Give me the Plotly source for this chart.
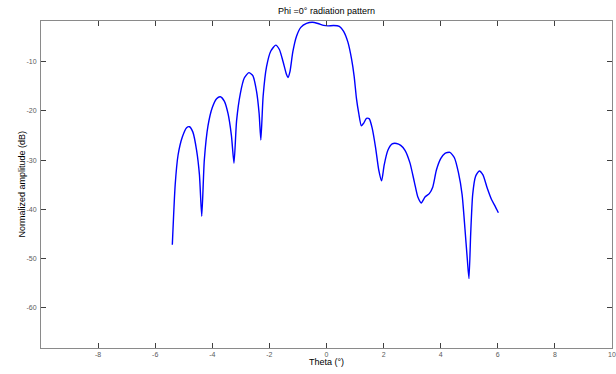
import plotly.graph_objects as go

theta = [-5.40, -5.30, -5.20, -5.05, -4.90, -4.80, -4.68, -4.55, -4.45, -4.37,
         -4.28, -4.15, -4.00, -3.85, -3.72, -3.58, -3.45, -3.33, -3.24,
         -3.15, -3.02, -2.88, -2.72, -2.58, -2.45, -2.36, -2.30,
         -2.22, -2.10, -1.95, -1.78, -1.65, -1.52, -1.40, -1.35,
         -1.28, -1.18, -1.05, -0.90, -0.70, -0.50, -0.30, -0.10, 0.05, 0.25, 0.45,
         0.60, 0.75, 0.88, 0.97, 1.05, 1.13, 1.22,
         1.30, 1.40, 1.50, 1.60, 1.72, 1.83, 1.93,
         2.02, 2.15, 2.30, 2.45, 2.60, 2.75, 2.92, 3.08, 3.20, 3.32,
         3.45, 3.60, 3.72, 3.85, 4.00, 4.15, 4.32, 4.48, 4.62, 4.75, 4.85, 4.93, 4.99,
         5.05, 5.12, 5.22, 5.35, 5.48, 5.62, 5.78, 5.90, 6.02]
amp_db = [-47.2, -35.0, -29.0, -25.3, -23.4, -23.2, -24.3, -28.0, -33.0, -41.4,
          -30.0, -23.0, -19.3, -17.5, -17.1, -18.0, -20.5, -25.0, -30.6,
          -22.0, -16.5, -13.3, -12.2, -12.8, -16.0, -20.5, -25.9,
          -17.0, -11.0, -7.8, -6.6, -7.5, -10.0, -12.6, -13.2,
          -12.0, -8.0, -4.8, -3.0, -2.2, -1.95, -2.2, -2.6, -2.7, -2.6, -2.8,
          -3.8, -6.0, -9.5, -13.0, -17.5, -20.5, -23.0,
          -22.5, -21.5, -21.6, -23.5, -27.5, -32.0, -34.2,
          -31.0, -28.0, -26.7, -26.6, -27.0, -28.0, -30.5, -34.5, -37.5, -38.7,
          -37.5, -36.8, -35.5, -32.0, -29.7, -28.6, -28.4, -29.5, -32.5, -37.0, -44.0, -50.0, -54.1,
          -45.0, -37.0, -33.3, -32.2, -33.0, -35.5, -38.0, -39.3, -40.7]

x_ticks = [-8, -6, -4, -2, 0, 2, 4, 6, 8, 10]
y_ticks = [-60, -50, -40, -30, -20, -10]

fig = go.Figure()
fig.add_trace(go.Scatter(x=theta, y=amp_db, mode="lines",
                         line=dict(color="#0000ff", width=1.4, shape="spline", smoothing=0.6),
                         showlegend=False, hoverinfo="skip"))

font = "Liberation Sans, Arial, sans-serif"
axis_common = dict(showgrid=False, zeroline=False, showline=True, linecolor="#8a8a8a",
                   linewidth=1, mirror="ticks", ticks="inside", ticklen=5, tickwidth=1,
                   tickcolor="#404040", automargin=False,
                   tickfont=dict(family=font, size=7, color="#5a5a5a"))

W, H = 616, 374
ML, MR, MT, MB = 41, 4, 21, 26
plot_w = W - ML - MR
plot_h = H - MT - MB

fig.update_layout(
    width=W, height=H,
    margin=dict(l=ML, r=MR, t=MT, b=MB, autoexpand=False),
    paper_bgcolor="white", plot_bgcolor="white",
    title=dict(text="Phi =0° radiation pattern", x=0.53, xanchor="center",
               y=1 - 11 / H, yref="container", yanchor="middle", automargin=False,
               font=dict(family=font, size=9, color="black")),
    xaxis=dict(range=[-10, 10], tickvals=x_ticks, ticktext=[str(v) for v in x_ticks],
               ticklabelstandoff=0, **axis_common),
    yaxis=dict(range=[-68.2, -1.7], tickvals=y_ticks, ticktext=[str(v) for v in y_ticks],
               ticklabelstandoff=2, **axis_common),
    annotations=[
        dict(text="Theta (°)", x=0.5, xref="paper", y=(H - MB - 362) / plot_h, yref="paper",
             xanchor="center", yanchor="middle", showarrow=False,
             font=dict(family=font, size=9, color="black")),
        dict(text="Normalized amplitude (dB)", x=(21 - ML) / plot_w, xref="paper", y=0.5, yref="paper",
             xanchor="center", yanchor="middle", showarrow=False, textangle=-90,
             font=dict(family=font, size=9, color="black")),
    ],
)

fig.write_html("out.html", config={"displayModeBar": False},
               post_script="document.body.style.margin='0';")
